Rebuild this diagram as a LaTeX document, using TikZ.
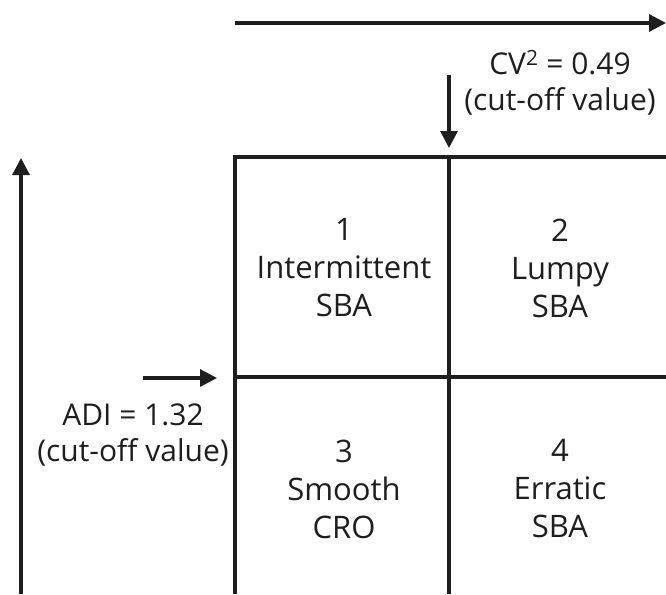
\documentclass[tikz,border=0pt]{standalone}
\usepackage{fontspec}
\setmainfont{Open Sans}
\usetikzlibrary{arrows.meta}
\definecolor{gridink}{RGB}{30,30,30}
\tikzset{
  gline/.style ={line width=3.2pt, gridink},
  gaxis/.style ={gline, -{Triangle[length=17pt,width=17pt]}},
  gcut/.style  ={gline, -{Triangle[length=17pt,width=17pt]}},
  cellnode/.style={align=center, inner sep=0pt, text=gridink,
                   font=\fontsize{31}{38}\selectfont},
  cutnode/.style ={align=center, inner sep=0pt, text=gridink,
                   font=\fontsize{30}{36}\selectfont},
}

\begin{document}
\begin{tikzpicture}[x=1pt,y=-1pt]
  \useasboundingbox (0,0) rectangle (666,594);
  % grid
  \coordinate (gtl) at (235,157);
  \coordinate (gbl) at (235,594);
  \coordinate (gtr) at (666,157);
  \coordinate (gmt) at (449,157);
  \coordinate (gmb) at (449,594);
  \coordinate (gml) at (235,377);
  \coordinate (gmr) at (666,377);
  \draw[gline] (gbl) -- (gtl) -- (gtr);
  \draw[gline] (gmt) -- (gmb);
  \draw[gline] (gml) -- (gmr);
  % axes
  \coordinate (xs) at (235,23);
  \coordinate (xe) at (666,23);
  \coordinate (ys) at (21,594);
  \coordinate (ye) at (21,158);
  \draw[gaxis] (xs) -- (xe);
  \draw[gaxis] (ys) -- (ye);
  % cut-off values
  \coordinate (cvs) at (449,75);
  \coordinate (cve) at (449,148);
  \coordinate (adis) at (143,378);
  \coordinate (adie) at (217,378);
  \draw[gcut] (cvs) -- (cve);
  \draw[gcut] (adis) -- (adie);
  \node[cutnode] (cvlabel)  at (560,83)  {CV\textsuperscript{2} = 0.49\\(cut-off value)};
  \node[cutnode] (adilabel) at (133,435) {ADI = 1.32\\(cut-off value)};
  % quadrants
  \foreach \n/\x/\y/\kind/\meth in {1/344/268/Intermittent/SBA, 2/560/268/Lumpy/SBA,
                                    3/344/489/Smooth/CRO, 4/560/489/Erratic/SBA} {
    \node[cellnode] (cell\n) at (\x,\y) {\n\\\kind\\\meth};
  }
\end{tikzpicture}
\end{document}
